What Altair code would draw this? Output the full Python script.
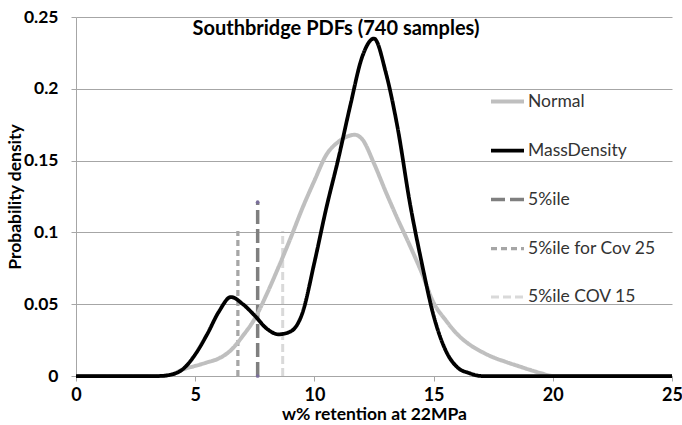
import altair as alt
import pandas as pd

series_names = ["Normal", "MassDensity", "5%ile", "5%ile for Cov 25", "5%ile COV 15"]
series_colors = ["#bfbfbf", "#000000", "#7f7f7f", "#a6a6a6", "#d9d9d9"]
series_dash = [[1, 0], [1, 0], [14, 5], [6, 4], [8, 4]]
series_width = [4, 3, 2.5, 2, 2]

normal_x = [0, 2.5, 3.5, 4.0, 4.5, 5.0, 5.5, 6.0, 6.5, 7.0, 7.5, 8.0, 8.5, 9.0, 9.5,
            10.0, 10.5, 11.0, 11.5, 11.7, 12.0, 12.5, 13.0, 13.5, 14.0, 14.5, 15.0, 15.5,
            16.0, 16.5, 17.0, 17.5, 18.0, 18.5, 19.0, 19.5, 20.0, 22.5, 25.0]
normal_y = [0, 0, 0, 0.001, 0.0047, 0.007, 0.0095, 0.0123, 0.018, 0.028, 0.040, 0.057,
            0.076, 0.096, 0.117, 0.136, 0.154, 0.163, 0.1675, 0.168, 0.165, 0.148, 0.128,
            0.109, 0.091, 0.072, 0.051, 0.039, 0.029, 0.022, 0.017, 0.013, 0.010, 0.0072,
            0.0045, 0.002, 0, 0, 0]

mass_x = [0, 2.5, 3.5, 4.0, 4.5, 5.0, 5.5, 6.0, 6.5, 7.0, 7.5, 8.0, 8.5, 9.0, 9.5,
          10.0, 10.5, 11.0, 11.5, 12.0, 12.5, 13.0, 13.5, 14.0, 14.5, 15.0, 15.5,
          16.0, 16.5, 17.0, 17.5, 20.0, 25.0]
mass_y = [0, 0, 0, 0.001, 0.005, 0.015, 0.029, 0.045, 0.055, 0.050, 0.042, 0.033,
          0.029, 0.031, 0.044, 0.079, 0.117, 0.151, 0.188, 0.222, 0.235, 0.211, 0.172,
          0.121, 0.079, 0.042, 0.018, 0.006, 0.002, 0, 0, 0, 0]

pct_names = ["5%ile", "5%ile for Cov 25", "5%ile COV 15"]
pct_x = [7.62, 6.79, 8.67]
pct_top = [0.121, 0.101, 0.101]

x_ticks = [0, 5, 10, 15, 20, 25]
y_ticks = [0, 0.05, 0.1, 0.15, 0.2, 0.25]

rows = []
for i, (xv, yv) in enumerate(zip(normal_x, normal_y)):
    rows.append({"series": "Normal", "x": xv, "y": yv, "o": i})
for i, (xv, yv) in enumerate(zip(mass_x, mass_y)):
    rows.append({"series": "MassDensity", "x": xv, "y": yv, "o": i})
curves = pd.DataFrame(rows)

vrows = []
for n, xv, top in zip(pct_names, pct_x, pct_top):
    vrows.append({"series": n, "x": xv, "y": 0, "o": 0})
    vrows.append({"series": n, "x": xv, "y": top, "o": 1})
vlines = pd.DataFrame(vrows)

FONT = "Lato"

xenc = alt.X("x:Q", scale=alt.Scale(domain=[0, 25], nice=False),
             axis=alt.Axis(values=x_ticks, title="w% retention at 22MPa", grid=False,
                           labelFlush=False,
                           labelFont=FONT, labelFontSize=18, labelFontWeight="bold",
                           labelColor="#000", labelPadding=5,
                           titleFont=FONT, titleFontSize=17.5, titleFontWeight="bold",
                           titleColor="#000", titleY=38, titleBaseline="middle",
                           domainColor="#a6a6a6", tickColor="#a6a6a6", tickSize=5))
yenc = alt.Y("y:Q", scale=alt.Scale(domain=[0, 0.25], nice=False),
             axis=alt.Axis(values=y_ticks, format="~g", title="Probability density",
                           grid=True, gridColor="#a6a6a6", gridWidth=1, labelFlush=False,
                           labelFont=FONT, labelFontSize=17.5, labelFontWeight="bold",
                           labelColor="#000", labelPadding=13,
                           titleFont=FONT, titleFontSize=17.5, titleFontWeight="bold",
                           titleColor="#000", titleX=-61, titleBaseline="middle",
                           domainColor="#a6a6a6", tickColor="#a6a6a6", tickSize=5))

leg = alt.Legend(title=None, orient="none", legendX=413, legendY=66,
                 symbolType="stroke", symbolSize=1089, rowPadding=22,
                 labelFont=FONT, labelFontSize=17.5, labelColor="#333",
                 labelOffset=2)

color = alt.Color("series:O", scale=alt.Scale(domain=series_names, range=series_colors), legend=leg)
dash = alt.StrokeDash("series:O", scale=alt.Scale(domain=series_names, range=series_dash), legend=leg)
width = alt.StrokeWidth("series:O", scale=alt.Scale(domain=series_names, range=series_width), legend=leg)

vl = alt.Chart(vlines).mark_line().encode(
    x=xenc, y=yenc, color=color, strokeDash=dash, strokeWidth=width,
    detail="series:N", order="o:Q")

ends = alt.Chart(vlines).transform_filter(alt.datum.series == "5%ile").mark_point(
    filled=True, size=14, color="#7a6f9b", opacity=1).encode(x="x:Q", y="y:Q")

cv = alt.Chart(curves).mark_line(interpolate="monotone").encode(
    x=xenc, y=yenc, color=color, strokeDash=dash, strokeWidth=width,
    detail="series:N", order="o:Q")

chart = alt.layer(vl, ends, cv).properties(
    width=596, height=359,
    autosize=alt.AutoSizeParams(type="none"),
    padding={"left": 76, "top": 17, "right": 10, "bottom": 49},
    title=alt.TitleParams("Southbridge PDFs (740 samples)", font=FONT, fontSize=20,
                          fontWeight="bold", color="#000", anchor="middle", dx=-38, dy=35),
).configure_view(stroke=None)

chart.save("out.html", embed_options={"renderer": "svg", "actions": False})
